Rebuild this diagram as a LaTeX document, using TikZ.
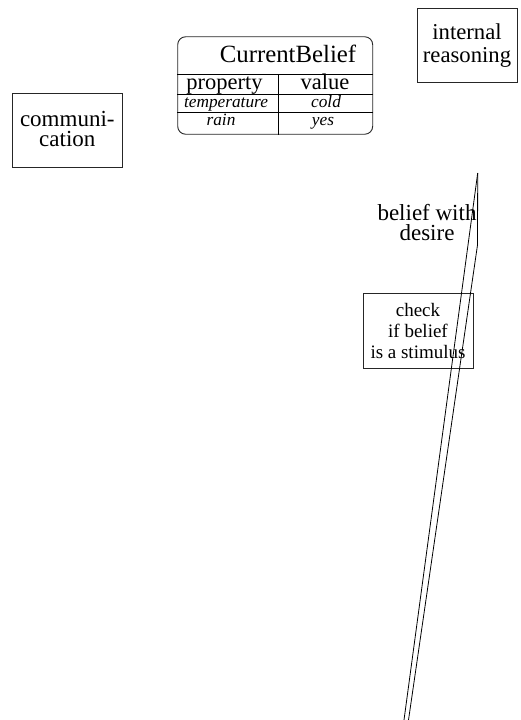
\documentclass[tikz,border=0pt]{standalone}
\usepackage{fontspec}
\setmainfont{Liberation Serif}
\begin{document}
\begin{tikzpicture}[x=1pt,y=-1pt,
  box/.style={draw=black!85, line width=0.9pt, inner sep=0pt, align=center},
  lbl/.style={inner sep=0pt, align=center},
  rule/.style={draw=black, line width=0.9pt},
  wire/.style={draw=black, line width=0.8pt}]
\useasboundingbox (0,0) rectangle (520,720);
% communication
\node[box, minimum width=110pt, minimum height=74pt] (comm) at (67.3,130.3) {};
\node[lbl, font=\fontsize{23}{20}\selectfont] (commt) at (67.3,128.5) {communi-\\cation};
% internal reasoning
\node[box, minimum width=100pt, minimum height=74pt, font=\fontsize{22.7}{23}\selectfont] (intr) at (467,45.5) {internal\\reasoning};
% CurrentBelief table
\node[box, rounded corners=8pt, minimum width=195pt, minimum height=97.5pt] (cb) at (275.2,85.5) {};
\node[lbl, anchor=base, font=\fontsize{24.8}{24.8}\selectfont] (cbt) at (288,62) {CurrentBelief};
\draw[rule] (cb.west |- 0,74) -- (cb.east |- 0,74);
\draw[rule] (cb.west |- 0,94) -- (cb.east |- 0,94);
\draw[rule] (cb.west |- 0,112.5) -- (cb.east |- 0,112.5);
\coordinate (cd) at (278.5,74);
\draw[rule] (cd) -- (cd |- cb.south);
\node[lbl, anchor=base, font=\fontsize{22.5}{22.5}\selectfont] (hp) at (224.5,89) {property};
\node[lbl, anchor=base, font=\fontsize{22.5}{22.5}\selectfont] (hv) at (325,89) {value};
\node[lbl, anchor=base, font=\fontsize{17.3}{17.3}\selectfont\itshape] (r1p) at (226,107) {temperature};
\node[lbl, anchor=base, font=\fontsize{17.3}{17.3}\selectfont\itshape] (r1v) at (326,107) {cold};
\node[lbl, anchor=base, font=\fontsize{17.3}{17.3}\selectfont\itshape] (r2p) at (221,125) {rain};
\node[lbl, anchor=base, font=\fontsize{17.3}{17.3}\selectfont\itshape] (r2v) at (323,125) {yes};
% belief with desire
\node[lbl, font=\fontsize{23}{20}\selectfont] (bwd) at (427,223) {belief with\\desire};
% check box
\node[box, minimum width=110pt, minimum height=75pt, font=\fontsize{19}{21}\selectfont] (chk) at (418,330.5) {check\\if belief\\is a stimulus};
% wires
\coordinate (t) at (477.7,173);
\coordinate (a) at (404,720);
\coordinate (k) at (477.5,245);
\coordinate (b) at (408.5,720);
\draw[wire] (t) -- (a);
\draw[wire] (t) -- (k) -- (b);
\end{tikzpicture}
\end{document}
